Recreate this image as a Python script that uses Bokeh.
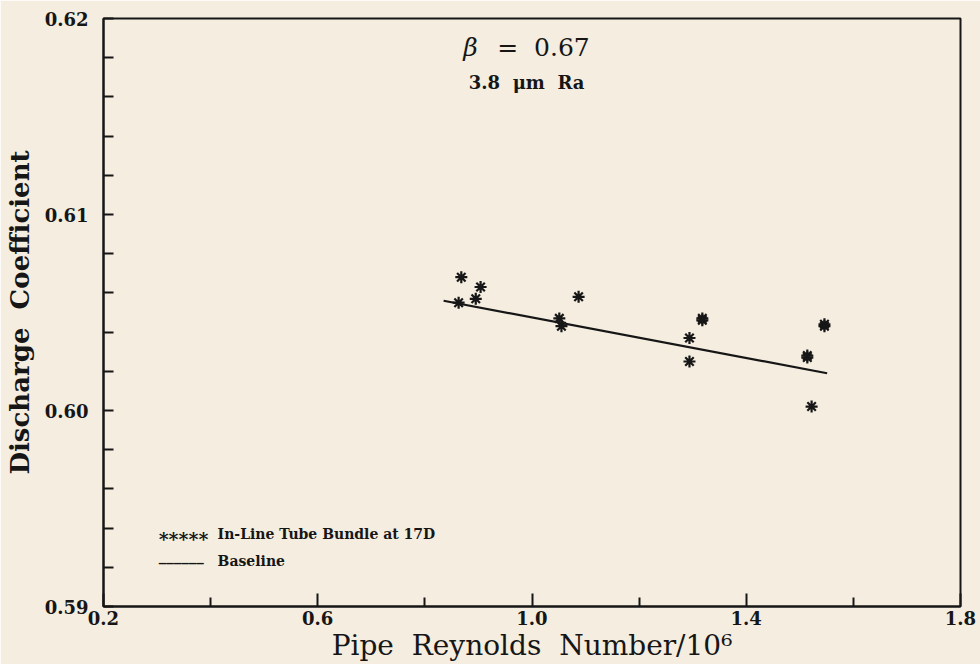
from bokeh.plotting import figure
from bokeh.models import Range1d, FixedTicker, PrintfTickFormatter, Label
from bokeh.embed import file_html
from bokeh.resources import INLINE

# ---- data ----
re_pipe = [0.863, 0.868, 0.895, 0.904, 1.051, 1.055, 1.087, 1.294, 1.294,
           1.318, 1.318, 1.514, 1.514, 1.522, 1.546, 1.546]
cd_tube = [0.6055, 0.6068, 0.6057, 0.6063, 0.6047, 0.6043, 0.6058, 0.6037,
           0.6025, 0.6046, 0.6047, 0.6028, 0.6027, 0.6002, 0.6043, 0.6044]
baseline_re = [0.835, 1.551]
baseline_cd = [0.6056, 0.6019]

x_ticks = [0.2, 0.6, 1.0, 1.4, 1.8]
x_minor = [0.4, 0.8, 1.2, 1.6]
y_ticks = [0.59, 0.60, 0.61, 0.62]
y_minor = [0.592, 0.594, 0.596, 0.598, 0.602, 0.604, 0.606, 0.608,
           0.612, 0.614, 0.616, 0.618]

BG = "#f4ede0"
INK = "#161616"
SERIF = "DejaVu Serif"
SP = "\u00a0"

p = figure(frame_width=857, frame_height=588, output_backend="svg",
           toolbar_location=None,
           x_range=Range1d(0.2, 1.8), y_range=Range1d(0.59, 0.62),
           min_border_left=103, min_border_right=20, min_border_top=18,
           min_border_bottom=52)
p.background_fill_color = BG
p.border_fill_color = BG
p.outline_line_color = INK
p.outline_line_width = 2
p.grid.visible = False

xa = p.xaxis[0]
xa.ticker = FixedTicker(ticks=x_ticks, minor_ticks=x_minor)
xa.formatter = PrintfTickFormatter(format="%.1f")
xa.major_tick_in = 13
xa.major_tick_out = 0
xa.minor_tick_in = 9
xa.minor_tick_out = 0
xa.major_label_standoff = 4
xa.axis_label = "Pipe" + SP * 2 + "Reynolds" + SP * 2 + "Number/10\u2076"
xa.axis_label_standoff = 1

ya = p.yaxis[0]
ya.ticker = FixedTicker(ticks=y_ticks, minor_ticks=y_minor)
ya.formatter = PrintfTickFormatter(format="%.2f")
ya.major_tick_in = 10
ya.major_tick_out = 0
ya.minor_tick_in = 10
ya.minor_tick_out = 0
ya.major_label_standoff = 15
ya.axis_label = "Discharge" + SP * 2 + "Coefficient"
ya.axis_label_standoff = 7

for ax in (xa, ya):
    ax.axis_line_color = INK
    ax.axis_line_width = 2
    ax.major_tick_line_color = INK
    ax.major_tick_line_width = 2
    ax.minor_tick_line_color = INK
    ax.minor_tick_line_width = 2
    ax.major_label_text_font = SERIF
    ax.major_label_text_font_style = "bold"
    ax.major_label_text_font_size = "18px"
    ax.major_label_text_color = INK
    ax.axis_label_text_font = SERIF
    ax.axis_label_text_color = INK

xa.axis_label_text_font_size = "28px"
xa.axis_label_text_font_style = "normal"
ya.axis_label_text_font_size = "26px"
ya.axis_label_text_font_style = "bold"

p.line(baseline_re, baseline_cd, line_color=INK, line_width=2.2)
p.scatter(re_pipe, cd_tube, marker="asterisk", size=12, line_color=INK,
          line_width=2.2)

# annotations
p.add_layout(Label(x=0.885, y=0.6178, text="\u03b2", text_font=SERIF,
                   text_font_style="italic", text_font_size="25px",
                   text_color=INK, text_align="center"))
p.add_layout(Label(x=0.935, y=0.6178, text="=" + SP * 2 + "0.67",
                   text_font=SERIF, text_font_size="25px", text_color=INK,
                   text_align="left"))
p.add_layout(Label(x=0.99, y=0.6162, text="3.8" + SP * 2 + "\u03bcm" + SP * 2 + "Ra",
                   text_font=SERIF, text_font_style="bold",
                   text_font_size="18px", text_color=INK, text_align="center"))

p.add_layout(Label(x=0.303, y=0.5929, text="*****", text_font=SERIF,
                   text_font_style="bold", text_font_size="19px",
                   text_color=INK))
p.add_layout(Label(x=0.413, y=0.5933, text="In-Line Tube Bundle at 17D",
                   text_font=SERIF, text_font_style="bold",
                   text_font_size="14px", text_color=INK))
p.add_layout(Label(x=0.303, y=0.5921, text="______", text_font=SERIF,
                   text_font_style="bold", text_font_size="15px",
                   text_color=INK))
p.add_layout(Label(x=0.413, y=0.5919, text="Baseline", text_font=SERIF,
                   text_font_style="bold", text_font_size="14px",
                   text_color=INK))

open("out.html", "w").write(file_html(p, INLINE))
